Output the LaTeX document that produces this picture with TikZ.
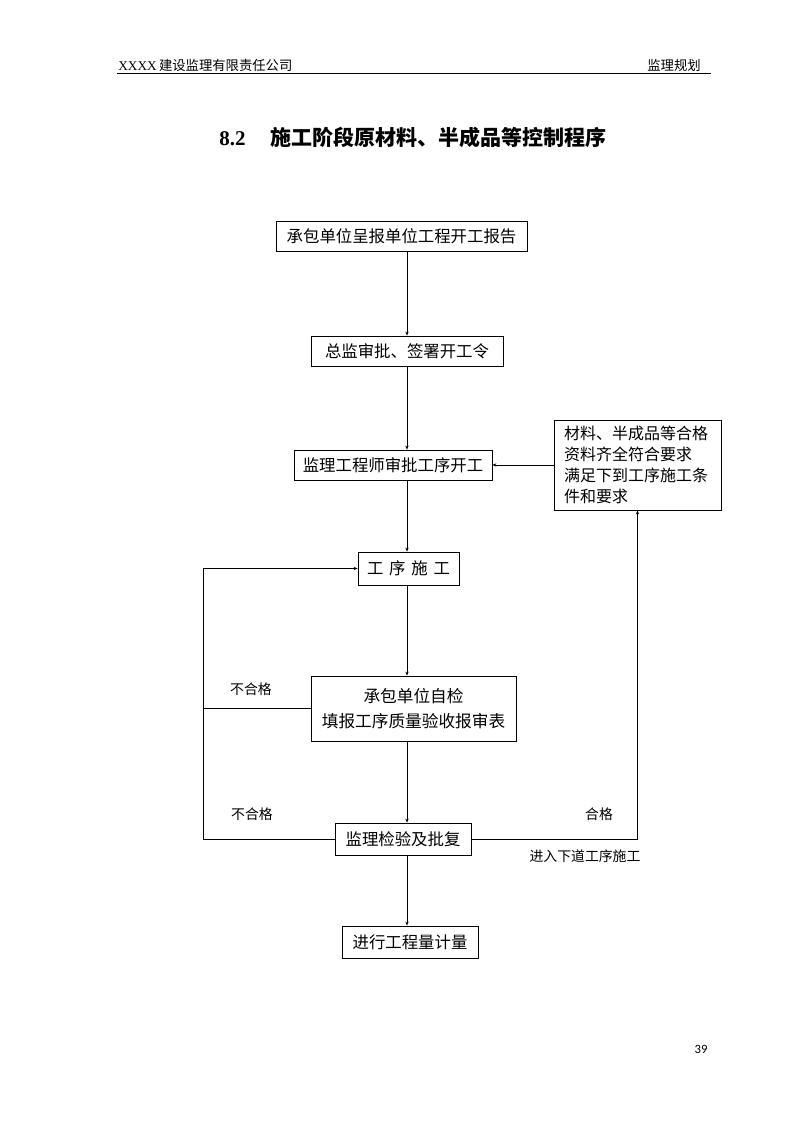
\documentclass[tikz,border=0pt]{standalone}
\usepackage{fontspec}
\setmainfont{Liberation Serif}
\newfontfamily\cjk{Noto Sans CJK SC}
\newfontfamily\pagenum{Carlito}
\usepackage{tikz}
\usetikzlibrary{arrows.meta}

\begin{document}
\begin{tikzpicture}[x=0.75pt, y=-0.75pt,
        box/.style = {draw, semithick, inner sep=0pt, font=\cjk\fontsize{12.3}{15}\selectfont},
        flow/.style = {semithick, -{Stealth[length=3pt, width=2.5pt]}},
        link/.style = {semithick},
        lbl/.style = {font=\cjk\fontsize{10.4}{12}\selectfont}]
        \useasboundingbox (0, 0) rectangle (794, 1123);
        % header
        \node [anchor=base west, inner sep=0pt] (head) at (118, 71)
            {\fontsize{10}{12}\selectfont XXXX\,\cjk 建设监理有限责任公司};
        \node [anchor=base east, inner sep=0pt] (part) at (701, 71)
            {\cjk\fontsize{10}{12}\selectfont 监理规划};
        \draw (117, 73.5) -- (711, 73.5);
        \node [inner sep=0pt] (title) at (413, 138)
            {\fontsize{15.75}{18}\selectfont\bfseries 8.2\hspace{1.2em}\cjk\bfseries 施工阶段原材料、半成品等控制程序};
        % boxes
        \node [box, minimum width=188.3pt, minimum height=22.5pt] (b1) at (401.5, 236) {承包单位呈报单位工程开工报告};
        \node [box, minimum width=144pt, minimum height=22.5pt] (b2) at (407, 351) {总监审批、签署开工令};
        \node [box, minimum width=148.5pt, minimum height=22.5pt] (b3) at (393, 465) {监理工程师审批工序开工};
        \node [box, minimum width=125.3pt, minimum height=67.5pt, align=left, text width=110pt,
            font=\cjk\fontsize{12}{15.75}\selectfont] (req) at (637.5, 465)
            {材料、半成品等合格\\资料齐全符合要求\\满足下到工序施工条\\件和要求};
        \node [box, minimum width=75.75pt, minimum height=24.75pt] (b4) at (408.5, 568.5) {工\hspace{0.35em}序\hspace{0.35em}施\hspace{0.35em}工};
        \node [box, minimum width=153.75pt, minimum height=48.75pt, align=center,
            font=\cjk\fontsize{12.5}{18.75}\selectfont] (b5) at (413.5, 708.5)
            {承包单位自检\\填报工序质量验收报审表};
        \node [box, minimum width=102pt, minimum height=24pt] (b6) at (403, 839) {监理检验及批复};
        \node [box, minimum width=102pt, minimum height=24pt] (b7) at (410, 942) {进行工程量计量};
        % guide lines
        \coordinate (spine) at (407, 0);
        \coordinate (lft) at (203, 0);
        % connectors
        \draw [flow] (b1.south -| spine) -- (b2.north -| spine);
        \draw [flow] (b2.south -| spine) -- (b3.north -| spine);
        \draw [flow] (req.west) -- (b3.east);
        \draw [flow] (b3.south -| spine) -- (b4.north -| spine);
        \draw [flow] (b4.south -| spine) -- (b5.north -| spine);
        \draw [flow] (b5.south -| spine) -- (b6.north -| spine);
        \draw [flow] (b6.south -| spine) -- (b7.north -| spine);
        \draw [flow] (b6.west) -- (b6.west -| lft) |- (b4.west);
        \draw [link] (b5.west) -- (b5.west -| lft);
        \draw [flow] (b6.east) -| (req.south);
        % labels
        \node [lbl] (fail1) at (251, 689) {不合格};
        \node [lbl] (fail2) at (252, 814) {不合格};
        \node [lbl] (pass) at (599, 814) {合格};
        \node [lbl] (next) at (585, 856) {进入下道工序施工};
        \node [font=\pagenum\fontsize{9.5}{11}\selectfont] (page) at (701, 1049) {39};
    \end{tikzpicture}
\end{document}
